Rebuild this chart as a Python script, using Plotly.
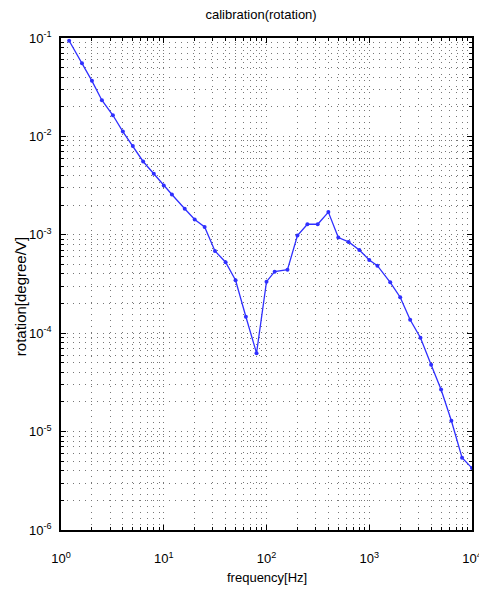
import plotly.graph_objects as go

# Measured calibration response: frequency [Hz] vs rotation [degree/V]
freq_hz = [1.2, 1.6, 2, 2.5, 3.2, 4, 5, 6.3, 8, 10,
           12, 16, 20, 25, 31.5, 40, 50, 63, 80, 100,
           120, 160, 200, 250, 315, 400, 500, 630, 800, 1000,
           1200, 1600, 2000, 2500, 3150, 4000, 5000, 6300, 8000, 10000]
rotation = [0.0937, 0.0554, 0.0367, 0.0233, 0.0164, 0.0112, 0.00798, 0.00556, 0.00417, 0.00317,
            0.00257, 0.00184, 0.00143, 0.00120, 0.000686, 0.000526, 0.000345, 0.000147, 0.0000627, 0.000334,
            0.000422, 0.000442, 0.000981, 0.00128, 0.00128, 0.00170, 0.000937, 0.000847, 0.000702, 0.000555,
            0.000486, 0.000329, 0.000232, 0.000137, 0.0000898, 0.0000477, 0.0000268, 0.0000129, 0.00000543, 0.00000426]

x_tickvals = [1, 10, 100, 1000, 10000]
x_ticktext = ["10<sup>0</sup>", "10<sup>1</sup>", "10<sup>2</sup>", "10<sup>3</sup>", "10<sup>4</sup>"]
y_tickvals = [1e-6, 1e-5, 1e-4, 1e-3, 1e-2, 1e-1]
y_ticktext = ["10<sup>-6</sup>", "10<sup>-5</sup>", "10<sup>-4</sup>",
              "10<sup>-3</sup>", "10<sup>-2</sup>", "10<sup>-1</sup>"]

FONT = "Liberation Sans, Arial, sans-serif"
GRID = "#777"
DOTS = "1px,5px"

fig = go.Figure()
fig.add_trace(go.Scatter(
    x=freq_hz, y=rotation, mode="lines+markers",
    line=dict(color="#2f2fff", width=1.3),
    marker=dict(color="#2f2fff", size=4),
    showlegend=False,
))

axis_common = dict(
    type="log",
    automargin=False,
    showline=True, linecolor="black", linewidth=1.5, mirror="ticks",
    ticks="inside", ticklen=5, tickcolor="black", tickwidth=1,
    showgrid=True, gridcolor=GRID, gridwidth=1, griddash=DOTS,
    zeroline=False,
    tickfont=dict(family=FONT, size=13, color="black"),
    ticklabeloverflow="allow",
    minor=dict(dtick="D1", ticks="inside", ticklen=3, tickcolor="black",
               showgrid=True, gridcolor=GRID, gridwidth=1, griddash=DOTS),
)

fig.update_xaxes(**axis_common, range=[0, 4], tickvals=x_tickvals, ticktext=x_ticktext,
                 ticklabelstandoff=16)
fig.update_yaxes(**axis_common, range=[-6, -1], tickvals=y_tickvals, ticktext=y_ticktext,
                 ticklabelstandoff=5)

fig.update_layout(
    width=479, height=594,
    margin=dict(l=61, r=7, t=38, b=64, autoexpand=False),
    paper_bgcolor="white", plot_bgcolor="white",
    font=dict(family=FONT, size=13, color="black"),
    title=dict(text="calibration(rotation)", x=0.545, xanchor="center",
               y=0.975, yanchor="middle", font=dict(size=13)),
    annotations=[
        dict(text="rotation[degree/V]", xref="paper", yref="paper", x=-0.1, y=0.475,
             xanchor="center", yanchor="middle", showarrow=False, textangle=-90,
             font=dict(size=15)),
        dict(text="frequency[Hz]", xref="paper", yref="paper", x=0.5, y=-0.097,
             xanchor="center", yanchor="middle", showarrow=False, font=dict(size=13)),
    ],
)

fig.write_html("out.html")
